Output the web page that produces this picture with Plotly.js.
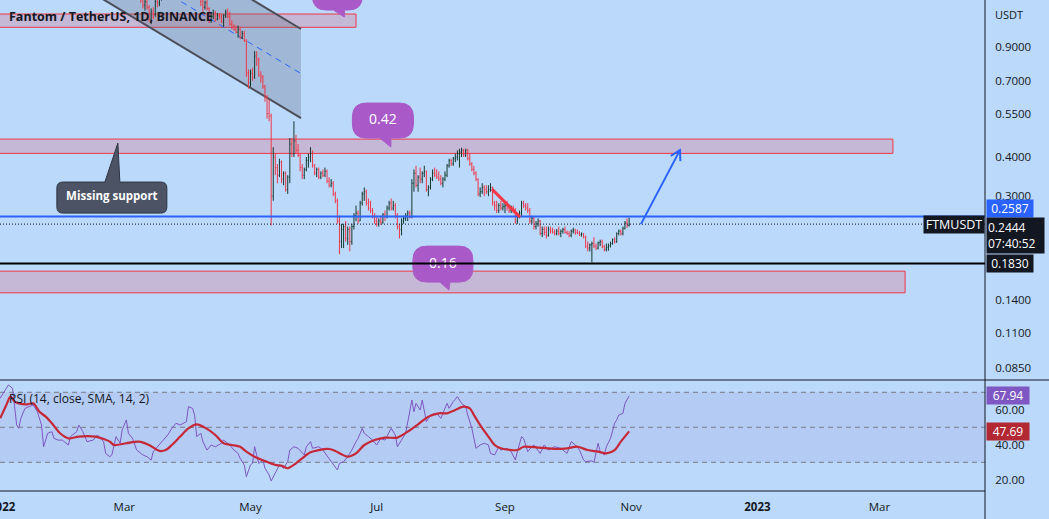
<!DOCTYPE html>
<html><head><meta charset="utf-8">
<script src="https://cdn.plot.ly/plotly-3.0.1.min.js"></script>
<style>html,body{margin:0;padding:0;background:#bbd9fb;overflow:hidden}#chart{width:1049px;height:519px}</style>
</head><body><div id="chart"></div>
<script>
// ---------------- DATA ----------------
const firstBarDate = [2022, 2, 1]; // 2022-03-01, one bar per day
const openP = [
 1.50,1.45,1.41,1.34,1.31,1.34,1.30,1.33,1.35,1.27,1.22,1.25,1.20,1.10,1.16,1.14,1.25,1.24,1.29,1.33,1.30,1.34,1.42,1.45,1.52,1.50,1.54,1.60,1.57,1.62,1.58,
 1.50,1.55,1.56,1.60,1.58,1.45,1.33,1.25,1.20,1.24,1.19,1.09,1.12,1.15,1.10,1.13,1.12,1.08,1.13,1.16,1.12,1.06,1.04,1.02,1.00,1.02,0.96,0.99,0.94,0.74,
 0.69,0.74,0.72,0.84,0.82,0.73,0.72,0.67,0.62,0.55,0.54,0.30,0.40,0.37,0.35,0.385,0.34,0.355,0.315,0.345,0.44,0.41,0.45,0.42,0.405,0.37,0.35,0.365,0.39,0.40,0.41,
 0.375,0.355,0.365,0.345,0.355,0.35,0.36,0.335,0.325,0.33,0.305,0.29,0.25,0.215,0.235,0.24,0.22,0.235,0.215,0.24,0.26,0.265,0.25,0.285,0.305,0.31,0.285,0.275,0.27,0.26,
 0.25,0.245,0.25,0.248,0.262,0.258,0.275,0.285,0.275,0.28,0.26,0.24,0.235,0.25,0.255,0.26,0.265,0.258,0.33,0.355,0.325,0.345,0.34,0.355,0.36,0.315,0.32,0.34,0.355,0.35,0.345,
 0.34,0.33,0.34,0.35,0.375,0.39,0.38,0.395,0.40,0.41,0.415,0.42,0.405,0.42,0.395,0.38,0.365,0.355,0.34,0.305,0.31,0.32,0.315,0.31,0.315,0.32,0.285,0.28,0.27,0.28,0.275,
 0.278,0.28,0.275,0.27,0.275,0.268,0.25,0.26,0.265,0.285,0.28,0.275,0.27,0.25,0.255,0.24,0.245,0.25,0.228,0.235,0.23,0.225,0.235,0.232,0.23,0.228,0.232,0.228,0.232,0.235,
 0.23,0.228,0.225,0.232,0.234,0.23,0.229,0.226,0.227,0.222,0.208,0.205,0.21,0.212,0.208,0.205,0.213,0.215,0.207,0.203,0.206,0.209,0.212,0.218,0.215,0.228,0.232,0.228,0.237,0.246,0.242
];
const highP = [
 1.56,1.52,1.44,1.37,1.36,1.36,1.38,1.40,1.42,1.30,1.27,1.28,1.22,1.19,1.20,1.27,1.30,1.32,1.36,1.35,1.38,1.46,1.48,1.56,1.58,1.57,1.64,1.66,1.68,1.65,1.61,
 1.58,1.60,1.64,1.62,1.60,1.46,1.36,1.30,1.26,1.27,1.20,1.15,1.18,1.17,1.15,1.15,1.14,1.14,1.18,1.19,1.16,1.09,1.06,1.05,1.05,1.04,1.01,1.01,0.95,0.76,
 0.76,0.77,0.87,0.87,0.83,0.75,0.73,0.68,0.63,0.61,0.55,0.43,0.41,0.38,0.395,0.39,0.36,0.36,0.35,0.46,0.46,0.52,0.47,0.44,0.41,0.38,0.37,0.40,0.41,0.43,0.42,
 0.38,0.37,0.37,0.36,0.365,0.37,0.365,0.345,0.34,0.335,0.31,0.295,0.26,0.245,0.245,0.25,0.24,0.24,0.245,0.265,0.28,0.27,0.29,0.31,0.32,0.315,0.295,0.29,0.275,0.265,
 0.26,0.255,0.26,0.265,0.27,0.28,0.29,0.295,0.29,0.285,0.265,0.245,0.255,0.26,0.265,0.27,0.27,0.34,0.365,0.375,0.35,0.37,0.36,0.375,0.362,0.325,0.345,0.365,0.37,0.365,0.36,
 0.35,0.345,0.36,0.38,0.395,0.395,0.40,0.41,0.42,0.425,0.428,0.425,0.425,0.425,0.41,0.385,0.375,0.36,0.342,0.32,0.33,0.325,0.325,0.325,0.33,0.322,0.29,0.29,0.285,0.29,0.285,
 0.285,0.29,0.28,0.28,0.28,0.275,0.265,0.27,0.29,0.29,0.285,0.285,0.275,0.26,0.258,0.25,0.255,0.252,0.24,0.24,0.24,0.24,0.24,0.238,0.235,0.236,0.24,0.235,0.238,0.24,
 0.233,0.232,0.235,0.238,0.236,0.235,0.232,0.23,0.229,0.225,0.215,0.212,0.215,0.222,0.212,0.215,0.218,0.218,0.21,0.212,0.212,0.215,0.22,0.222,0.23,0.235,0.235,0.24,0.25,0.255,0.256
];
const lowP = [
 1.42,1.38,1.32,1.29,1.29,1.29,1.28,1.29,1.24,1.19,1.17,1.18,1.08,1.06,1.10,1.12,1.20,1.21,1.26,1.27,1.28,1.33,1.38,1.43,1.47,1.48,1.52,1.54,1.55,1.54,1.47,
 1.46,1.50,1.52,1.48,1.44,1.30,1.21,1.16,1.18,1.17,1.07,1.07,1.10,1.08,1.09,1.10,1.07,1.04,1.11,1.11,1.05,1.02,1.01,0.99,0.96,0.95,0.95,0.93,0.72,0.66,
 0.67,0.70,0.71,0.78,0.72,0.69,0.66,0.60,0.53,0.52,0.242,0.29,0.35,0.33,0.345,0.33,0.325,0.31,0.305,0.33,0.40,0.40,0.41,0.40,0.36,0.34,0.34,0.36,0.37,0.385,0.37,
 0.35,0.345,0.34,0.34,0.345,0.345,0.33,0.32,0.32,0.30,0.285,0.245,0.196,0.205,0.205,0.215,0.21,0.20,0.21,0.235,0.25,0.245,0.25,0.28,0.29,0.28,0.27,0.265,0.255,0.245,
 0.24,0.24,0.243,0.245,0.25,0.255,0.27,0.27,0.27,0.255,0.235,0.22,0.225,0.245,0.25,0.25,0.255,0.255,0.31,0.32,0.31,0.33,0.33,0.345,0.31,0.30,0.315,0.335,0.345,0.34,0.335,
 0.325,0.32,0.335,0.345,0.37,0.375,0.375,0.385,0.39,0.37,0.40,0.40,0.40,0.39,0.375,0.36,0.35,0.335,0.30,0.298,0.305,0.30,0.305,0.30,0.31,0.28,0.27,0.265,0.265,0.27,0.27,
 0.265,0.27,0.265,0.265,0.265,0.245,0.245,0.255,0.26,0.275,0.27,0.265,0.245,0.245,0.235,0.235,0.24,0.225,0.222,0.225,0.22,0.223,0.228,0.228,0.225,0.225,0.225,0.222,0.228,0.228,
 0.226,0.222,0.222,0.228,0.226,0.227,0.224,0.223,0.22,0.205,0.20,0.20,0.185,0.205,0.202,0.203,0.208,0.205,0.20,0.20,0.201,0.206,0.21,0.212,0.213,0.225,0.225,0.225,0.235,0.238,0.24
];
const closeP = [
 1.45,1.41,1.34,1.31,1.34,1.30,1.33,1.35,1.27,1.22,1.25,1.20,1.10,1.16,1.14,1.25,1.24,1.29,1.33,1.30,1.34,1.42,1.45,1.52,1.50,1.54,1.60,1.57,1.62,1.58,1.50,
 1.55,1.56,1.60,1.58,1.45,1.33,1.25,1.20,1.24,1.19,1.09,1.12,1.15,1.10,1.13,1.12,1.08,1.13,1.16,1.12,1.06,1.04,1.02,1.00,1.02,0.96,0.99,0.94,0.74,0.69,
 0.74,0.72,0.84,0.82,0.73,0.72,0.67,0.62,0.55,0.54,0.30,0.40,0.37,0.35,0.385,0.34,0.355,0.315,0.345,0.44,0.41,0.45,0.42,0.405,0.37,0.35,0.365,0.39,0.40,0.41,0.375,
 0.355,0.365,0.345,0.355,0.35,0.36,0.335,0.325,0.33,0.305,0.29,0.25,0.215,0.235,0.24,0.22,0.235,0.215,0.24,0.26,0.265,0.25,0.285,0.305,0.31,0.285,0.275,0.27,0.26,0.25,
 0.245,0.25,0.248,0.262,0.258,0.275,0.285,0.275,0.28,0.26,0.24,0.235,0.25,0.255,0.26,0.265,0.258,0.33,0.355,0.325,0.345,0.34,0.355,0.36,0.315,0.32,0.34,0.355,0.35,0.345,0.34,
 0.33,0.34,0.35,0.375,0.39,0.38,0.395,0.40,0.41,0.415,0.42,0.405,0.42,0.395,0.38,0.365,0.355,0.34,0.305,0.31,0.32,0.315,0.31,0.315,0.32,0.285,0.28,0.27,0.28,0.275,0.278,
 0.28,0.275,0.27,0.275,0.268,0.25,0.26,0.265,0.285,0.28,0.275,0.27,0.25,0.255,0.24,0.245,0.25,0.228,0.235,0.23,0.225,0.235,0.232,0.23,0.228,0.232,0.228,0.232,0.235,0.23,
 0.228,0.225,0.232,0.234,0.23,0.229,0.226,0.227,0.222,0.208,0.205,0.21,0.212,0.208,0.205,0.213,0.215,0.207,0.203,0.206,0.209,0.212,0.218,0.215,0.228,0.232,0.228,0.237,0.246,0.242,0.2444
];

const rsiDates = ['2021-12-31','2022-01-04','2022-01-06','2022-01-08','2022-01-09','2022-01-10','2022-01-12','2022-01-14','2022-01-16','2022-01-18','2022-01-20','2022-01-21','2022-01-23','2022-01-25','2022-01-26','2022-01-28','2022-01-30','2022-02-02','2022-02-03','2022-02-06','2022-02-07','2022-02-09','2022-02-11','2022-02-14','2022-02-16','2022-02-19','2022-02-20','2022-02-22','2022-02-23','2022-02-25','2022-02-27','2022-02-28','2022-03-02','2022-03-03','2022-03-05','2022-03-07','2022-03-08','2022-03-10','2022-03-12','2022-03-14','2022-03-15','2022-03-17','2022-03-19','2022-03-22','2022-03-24','2022-03-26','2022-03-28','2022-03-31','2022-04-01','2022-04-03','2022-04-04','2022-04-05','2022-04-07','2022-04-08','2022-04-10','2022-04-12','2022-04-14','2022-04-17','2022-04-18','2022-04-21','2022-04-23','2022-04-25','2022-04-26','2022-04-28','2022-04-29','2022-05-01','2022-05-02','2022-05-03','2022-05-05','2022-05-07','2022-05-08','2022-05-10','2022-05-11','2022-05-13','2022-05-15','2022-05-17','2022-05-19','2022-05-20','2022-05-22','2022-05-24','2022-05-27','2022-05-28','2022-05-30','2022-05-31','2022-06-03','2022-06-05','2022-06-08','2022-06-09','2022-06-12','2022-06-13','2022-06-15','2022-06-17','2022-06-19','2022-06-21','2022-06-22','2022-06-24','2022-06-25','2022-06-27','2022-06-29','2022-07-01','2022-07-03','2022-07-05','2022-07-07','2022-07-08','2022-07-10','2022-07-11','2022-07-13','2022-07-15','2022-07-18','2022-07-19','2022-07-20','2022-07-22','2022-07-23','2022-07-25','2022-07-27','2022-07-30','2022-08-01','2022-08-04','2022-08-05','2022-08-07','2022-08-09','2022-08-11','2022-08-13','2022-08-14','2022-08-16','2022-08-18','2022-08-20','2022-08-22','2022-08-24','2022-08-25','2022-08-27','2022-08-29','2022-08-30','2022-09-02','2022-09-04','2022-09-06','2022-09-07','2022-09-09','2022-09-10','2022-09-12','2022-09-14','2022-09-15','2022-09-18','2022-09-20','2022-09-22','2022-09-25','2022-09-28','2022-10-01','2022-10-03','2022-10-05','2022-10-07','2022-10-09','2022-10-10','2022-10-13','2022-10-14','2022-10-16','2022-10-17','2022-10-19','2022-10-20','2022-10-22','2022-10-24','2022-10-25','2022-10-26','2022-10-28','2022-10-29','2022-10-31'];
const rsiValues = [66.6,74.2,72.3,51.3,49.4,55.1,60.8,61.8,62.8,58.9,51.3,38.9,46.6,47.5,43.7,42.7,42.7,39.9,44.7,47.5,51.3,47.5,41.8,42.7,45.6,41.8,35.1,33.2,34.2,44.7,40.9,48.5,54.2,46.6,43.7,37.0,36.1,34.2,33.2,31.3,36.1,38.9,41.8,45.6,49.4,52.3,51.3,53.2,61.8,60.8,57.0,44.7,46.6,41.8,37.0,39.9,38.9,40.9,42.7,39.9,37.0,35.1,32.3,28.5,21.8,28.5,29.4,38.9,29.4,31.3,26.6,22.8,19.3,23.7,28.5,26.6,30.4,37.0,38.9,38.0,34.2,38.9,41.8,38.0,38.9,37.0,32.3,30.4,25.6,29.4,30.4,33.2,37.0,41.8,43.7,49.4,46.6,44.7,42.7,39.9,43.7,42.7,47.5,49.4,45.6,38.9,42.7,46.6,65.6,58.9,63.7,59.9,65.6,53.2,57.0,58.0,55.1,63.7,60.8,64.7,67.5,63.7,61.8,57.0,49.4,38.0,39.9,40.9,39.9,35.1,34.2,38.9,37.0,38.0,36.1,31.3,36.1,44.7,43.7,36.1,38.9,39.9,35.1,39.9,37.0,38.9,38.0,35.1,41.8,39.9,37.0,31.3,30.4,30.8,30.0,40.9,36.1,34.2,38.9,43.7,52.3,54.2,57.0,58.0,63.7,67.94];

const rsiMaDates = ['2021-12-31','2022-01-03','2022-01-05','2022-01-07','2022-01-09','2022-01-13','2022-01-16','2022-01-19','2022-01-22','2022-01-25','2022-01-29','2022-02-02','2022-02-07','2022-02-15','2022-02-18','2022-02-22','2022-02-24','2022-03-02','2022-03-08','2022-03-13','2022-03-18','2022-03-21','2022-03-24','2022-03-28','2022-04-01','2022-04-05','2022-04-09','2022-04-14','2022-04-18','2022-04-22','2022-04-26','2022-04-29','2022-05-03','2022-05-08','2022-05-13','2022-05-16','2022-05-19','2022-05-23','2022-05-26','2022-05-30','2022-06-03','2022-06-08','2022-06-11','2022-06-14','2022-06-17','2022-06-21','2022-06-25','2022-06-30','2022-07-05','2022-07-11','2022-07-16','2022-07-21','2022-07-26','2022-07-31','2022-08-04','2022-08-08','2022-08-12','2022-08-15','2022-08-17','2022-08-20','2022-08-24','2022-08-27','2022-08-30','2022-09-04','2022-09-07','2022-09-10','2022-09-17','2022-09-22','2022-09-26','2022-10-01','2022-10-06','2022-10-11','2022-10-16','2022-10-20','2022-10-24','2022-10-27','2022-10-31'];
const rsiMaValues = [55.1,62.8,67.5,64.7,63.7,63.1,63.7,58.9,56.1,52.3,46.6,43.7,44.7,44.7,43.7,41.8,39.9,40.9,41.8,39.9,36.5,37.0,39.9,44.7,49.4,51.7,49.8,45.6,40.9,39.9,38.9,36.1,33.2,30.7,28.5,28.1,26.6,29.4,32.3,35.7,37.0,37.6,36.5,34.6,33.2,35.1,39.9,42.7,44.1,44.1,47.5,51.7,56.1,58.0,58.0,59.9,61.8,60.8,57.0,51.3,44.7,39.9,38.0,37.0,37.0,38.9,38.4,38.0,37.6,38.0,38.9,37.0,36.1,35.1,37.0,41.8,47.69];

const priceTickVals = [0.085, 0.11, 0.14, 0.3, 0.4, 0.55, 0.7, 0.9];
const priceTickText = ['0.0850','0.1100','0.1400','0.3000','0.4000','0.5500','0.7000','0.9000'];
const rsiTickVals = [20, 40, 60];
const rsiTickText = ['20.00','40.00','60.00'];
const rsiLevels = [70, 50, 30];
const xTickVals = ['2022-01-01','2022-03-01','2022-05-01','2022-07-01','2022-09-01','2022-11-01','2023-01-01','2023-03-01'];
const xTickText = ['<b>2022</b>','Mar','May','Jul','Sep','Nov','<b>2023</b>','Mar'];
const xRange = ['2021-12-30 22:29','2023-04-21 00:00'];

const resistanceLevel = 0.2587, lastPrice = 0.2444, supportLevel = 0.1830;
const rsiLast = 67.94, rsiMaLast = 47.69;
const zoneEnds = ['2022-06-21','2023-03-07 12:00','2023-03-13 09:00'];
const zoneLow  = [1.0361, 0.4107, 0.1476];
const zoneHigh = [1.1424, 0.4562, 0.1731];
const channelDates = ['2022-01-19_06:00','2022-05-25_10:00'];
const channelLower = [1.6806, 0.5321];
const channelUpper = [3.2312, 1.0233];
const channelMid = [2.3303, 0.7379];
const trendDates = ['2022-08-25 17:00','2022-09-08 07:00'];
const trendPrices = [0.3161, 0.2573];
const arrowDates = ['2022-11-05 17:00','2022-11-24 14:00'];
const arrowPrices = [0.2444, 0.4207];
const calloutText = ['0.42','0.16','Missing support',''];
const calloutDates = ['2022-07-04','2022-08-02','2022-02-23','2022-06-12'];
const calloutPrices = [0.5226, 0.18224, 0.29699, 1.3423];

// ---------------- BUILD ----------------
const FONT = 'Open Sans, Liberation Sans, sans-serif';
const INK = '#131722';
const BG = '#bbd9fb';
const barDates = closeP.map((_, i) => new Date(Date.UTC(firstBarDate[0], firstBarDate[1], firstBarDate[2] + i)).toISOString().slice(0, 10));

function calloutPath(w, h, r, tail) {
  const L = -w, R = w, T = h, B = -h;
  let p = `M${L + r},${T}`;
  if (tail.side === 'top') p += ` L${tail.b1},${T} L${tail.tx},${tail.ty} L${tail.b2},${T}`;
  p += ` L${R - r},${T} Q${R},${T} ${R},${T - r} L${R},${B + r} Q${R},${B} ${R - r},${B}`;
  if (tail.side === 'bottom') p += ` L${tail.b2},${B} L${tail.tx},${tail.ty} L${tail.b1},${B}`;
  p += ` L${L + r},${B} Q${L},${B} ${L},${B + r} L${L},${T - r} Q${L},${T} ${L + r},${T} Z`;
  return p;
}
const PURPLE = '#a95ac8';
const calloutStyle = [
  {w: 30.5, h: 17.5, r: 14, tail: {side: 'bottom', b1: -3, b2: 8, tx: 8, ty: -26.5}, fill: PURPLE, line: PURPLE},
  {w: 30, h: 18, r: 14, tail: {side: 'bottom', b1: -3, b2: 7, tx: 6, ty: -26}, fill: PURPLE, line: PURPLE},
  {w: 55, h: 15.5, r: 6, tail: {side: 'top', b1: -7, b2: 8, tx: 6, ty: 54.5}, fill: '#4b5365', line: '#2f3440'},
  {w: 25, h: 18, r: 14, tail: {side: 'bottom', b1: -4, b2: 7, tx: 7, ty: -25}, fill: PURPLE, line: PURPLE}
];

const shapes = [];
zoneEnds.forEach((x1, i) => shapes.push({type: 'rect', layer: 'below', xref: 'x', yref: 'y', x0: '2021-11-01', x1: x1,
  y0: zoneLow[i], y1: zoneHigh[i], fillcolor: 'rgba(242,54,69,0.2)', line: {color: '#f23645', width: 1}}));
shapes.push({type: 'path', layer: 'below', xref: 'x', yref: 'y',
  path: `M${channelDates[0]},${channelLower[0]} L${channelDates[1]},${channelLower[1]} L${channelDates[1]},${channelUpper[1]} L${channelDates[0]},${channelUpper[0]} Z`,
  fillcolor: 'rgba(100,110,125,0.3)', line: {width: 0}});
const cd = channelDates.map(d => d.replace('_', ' '));
shapes.push({type: 'line', layer: 'below', xref: 'x', yref: 'y', x0: cd[0], x1: cd[1], y0: channelLower[0], y1: channelLower[1], line: {color: '#4a4e59', width: 2}});
shapes.push({type: 'line', layer: 'below', xref: 'x', yref: 'y', x0: cd[0], x1: cd[1], y0: channelUpper[0], y1: channelUpper[1], line: {color: '#4a4e59', width: 2}});
shapes.push({type: 'line', layer: 'below', xref: 'x', yref: 'y', x0: cd[0], x1: cd[1], y0: channelMid[0], y1: channelMid[1], line: {color: '#2962ff', width: 1, dash: '6px,5px'}});
calloutStyle.forEach((s, i) => shapes.push({type: 'path', layer: 'below', xref: 'x', yref: 'y',
  xsizemode: 'pixel', ysizemode: 'pixel', xanchor: calloutDates[i], yanchor: calloutPrices[i],
  path: calloutPath(s.w, s.h, s.r, s.tail), fillcolor: s.fill, line: {color: s.line, width: 1}}));
shapes.push({type: 'rect', layer: 'below', xref: 'paper', yref: 'y2', x0: 0, x1: 1, y0: 30, y1: 70, fillcolor: 'rgba(126,87,194,0.11)', line: {width: 0}});
rsiLevels.forEach(v => shapes.push({type: 'line', layer: 'below', xref: 'paper', yref: 'y2', x0: 0, x1: 1, y0: v, y1: v, line: {color: '#787b86', width: 1, dash: '5px,4px'}}));
shapes.push({type: 'line', layer: 'above', xref: 'paper', yref: 'y', x0: 0, x1: 1, y0: lastPrice, y1: lastPrice, line: {color: '#131722', width: 1, dash: '1px,2px'}});
shapes.push({type: 'line', layer: 'above', xref: 'paper', yref: 'y', x0: 0, x1: 1, y0: resistanceLevel, y1: resistanceLevel, line: {color: '#2962ff', width: 2}});
shapes.push({type: 'line', layer: 'above', xref: 'paper', yref: 'y', x0: 0, x1: 1, y0: supportLevel, y1: supportLevel, line: {color: '#000000', width: 2}});
shapes.push({type: 'line', layer: 'above', xref: 'x', yref: 'y', x0: trendDates[0], x1: trendDates[1], y0: trendPrices[0], y1: trendPrices[1], line: {color: '#f23645', width: 3}});
shapes.push({type: 'line', layer: 'above', xref: 'x', yref: 'y', x0: arrowDates[0], x1: arrowDates[1], y0: arrowPrices[0], y1: arrowPrices[1], line: {color: '#2962ff', width: 2}});
shapes.push({type: 'path', layer: 'above', xref: 'x', yref: 'y', xsizemode: 'pixel', ysizemode: 'pixel', xanchor: arrowDates[1], yanchor: arrowPrices[1],
  path: 'M-9.3,-5.9 L0,0 L0.4,-11', line: {color: '#2962ff', width: 2}});
const splitY = 111 / 491;
shapes.push({type: 'line', layer: 'above', xref: 'paper', yref: 'paper', x0: 0, x1: 1049 / 985, y0: splitY, y1: splitY, line: {color: INK, width: 1}});
shapes.push({type: 'line', layer: 'above', xref: 'paper', yref: 'paper', x0: 0, x1: 1, y0: 0, y1: 0, line: {color: INK, width: 1}});
shapes.push({type: 'line', layer: 'above', xref: 'paper', yref: 'paper', x0: 1, x1: 1, y0: -28 / 491, y1: 1, line: {color: INK, width: 1}});

const traces = [
  {type: 'ohlc', x: barDates, open: openP, high: highP, low: lowP, close: closeP, xaxis: 'x', yaxis: 'y',
   increasing: {line: {color: '#133a2d', width: 1}}, decreasing: {line: {color: '#f23645', width: 1}}, tickwidth: 0.35, hoverinfo: 'skip'},
  {type: 'scatter', mode: 'text', x: calloutDates, y: calloutPrices, text: calloutText.map((t, i) => i === 2 ? '<b>' + t + '</b>' : t), xaxis: 'x', yaxis: 'y',
   textposition: 'middle center', textfont: {family: FONT, size: [14, 14, 11.5, 14], color: '#ffffff'}, hoverinfo: 'skip'},
  {type: 'scatter', mode: 'lines', x: rsiDates, y: rsiValues, xaxis: 'x', yaxis: 'y2', line: {color: '#7e57c2', width: 1}, hoverinfo: 'skip'},
  {type: 'scatter', mode: 'lines', x: rsiMaDates, y: rsiMaValues, xaxis: 'x', yaxis: 'y2', line: {color: '#c62838', width: 2.2, shape: 'spline', smoothing: 0.8}, hoverinfo: 'skip'}
];

const lbl = {family: FONT, size: 12, color: '#ffffff'};
const annotations = [
  {xref: 'paper', yref: 'paper', x: 0, y: 1, xanchor: 'left', yanchor: 'middle', xshift: 7, yshift: -16, showarrow: false,
   text: '<b>Fantom / TetherUS, 1D, BINANCE</b>', font: {family: FONT, size: 12.5, color: INK}},
  {xref: 'paper', yref: 'paper', x: 0, y: splitY, xanchor: 'left', yanchor: 'middle', xshift: 7, yshift: -18, showarrow: false,
   text: 'RSI (14, close, SMA, 14, 2)', font: {family: FONT, size: 12, color: INK}},
  {xref: 'paper', yref: 'paper', x: 1, y: 1, xanchor: 'left', yanchor: 'middle', xshift: 8, yshift: -14, showarrow: false,
   text: 'USDT', font: {family: FONT, size: 11, color: INK}},
  {xref: 'paper', yref: 'y', x: 1, y: Math.log10(resistanceLevel), xanchor: 'left', yanchor: 'middle', xshift: 1, yshift: 8, showarrow: false,
   text: resistanceLevel.toFixed(4), font: lbl, bgcolor: '#2962ff', width: 46, borderpad: 0, align: 'center'},
  {xref: 'paper', yref: 'y', x: 1, y: Math.log10(lastPrice), xanchor: 'left', yanchor: 'top', xshift: 1, yshift: 7, showarrow: false,
   text: lastPrice.toFixed(4) + '<br>07:40:52', font: lbl, bgcolor: '#131722', width: 55, borderpad: 1, align: 'left'},
  {xref: 'paper', yref: 'y', x: 1, y: Math.log10(lastPrice), xanchor: 'right', yanchor: 'middle', xshift: 0, showarrow: false,
   text: 'FTMUSDT', font: {family: FONT, size: 12.5, color: '#ffffff'}, bgcolor: '#131722', width: 60, borderpad: 0, align: 'center'},
  {xref: 'paper', yref: 'y', x: 1, y: Math.log10(supportLevel), xanchor: 'left', yanchor: 'middle', xshift: 1, showarrow: false,
   text: supportLevel.toFixed(4), font: lbl, bgcolor: '#131722', width: 46, borderpad: 0, align: 'center'},
  {xref: 'paper', yref: 'y2', x: 1, y: rsiLast, xanchor: 'left', yanchor: 'middle', xshift: 1, showarrow: false,
   text: rsiLast.toFixed(2), font: lbl, bgcolor: '#7e57c2', width: 42, borderpad: 0, align: 'center'},
  {xref: 'paper', yref: 'y2', x: 1, y: rsiMaLast, xanchor: 'left', yanchor: 'middle', xshift: 1, showarrow: false,
   text: rsiMaLast.toFixed(2), font: lbl, bgcolor: '#b22833', width: 42, borderpad: 0, align: 'center'}
];

const tickFont = {family: FONT, size: 11.5, color: INK};
const layout = {
  width: 1049, height: 519,
  margin: {l: 0, r: 64, t: 0, b: 28, pad: 0},
  paper_bgcolor: BG, plot_bgcolor: BG,
  showlegend: false, hovermode: false, dragmode: false,
  xaxis: {type: 'date', range: xRange, anchor: 'y2', showgrid: false, zeroline: false, showline: false,
    tickmode: 'array', tickvals: xTickVals, ticktext: xTickText, ticks: 'outside', ticklen: 5, tickcolor: 'rgba(0,0,0,0)',
    ticklabeloverflow: 'allow', tickfont: tickFont, rangeslider: {visible: false}, fixedrange: true},
  yaxis: {type: 'log', domain: [splitY, 1], range: [-1.1087, 0.10243], side: 'right', anchor: 'x', showgrid: false, zeroline: false, showline: false,
    tickmode: 'array', tickvals: priceTickVals, ticktext: priceTickText, ticks: 'outside', ticklen: 7, tickcolor: 'rgba(0,0,0,0)', tickfont: tickFont, fixedrange: true},
  yaxis2: {domain: [0, splitY], range: [13.6, 77.03], side: 'right', anchor: 'x', showgrid: false, zeroline: false, showline: false,
    tickmode: 'array', tickvals: rsiTickVals, ticktext: rsiTickText, ticks: 'outside', ticklen: 7, tickcolor: 'rgba(0,0,0,0)', tickfont: tickFont, fixedrange: true},
  shapes: shapes,
  annotations: annotations
};

Plotly.newPlot('chart', traces, layout, {staticPlot: true, displayModeBar: false});
</script></body></html>
